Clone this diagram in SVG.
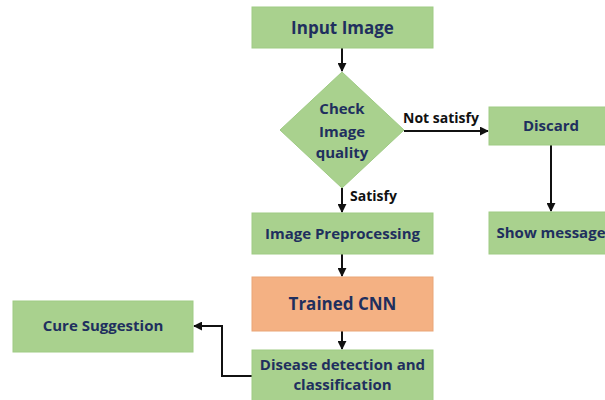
<svg xmlns="http://www.w3.org/2000/svg" width="605" height="400" viewBox="0 0 605 400">
<style>
.box{fill:#a9d18e;stroke:#9fcb84;stroke-width:1}
.cnn{fill:#f4b183;stroke:#eaa576;stroke-width:1}
.t{font-family:"Open Sans","Liberation Sans",sans-serif;font-weight:700;fill:#1f2f5e;text-anchor:middle;font-size:15px}
.big{font-size:17px}
.lbl{font-family:"Open Sans","Liberation Sans",sans-serif;font-weight:700;fill:#111;font-size:14px}
.c{fill:none;stroke:#111;stroke-width:2}
</style>
<defs>
<marker id="ah" viewBox="0 0 10 10" refX="9" refY="5" markerWidth="4.5" markerHeight="4.5" orient="auto" markerUnits="strokeWidth">
<path d="M0,0 L10,5 L0,10 z" fill="#111"/>
</marker>
</defs>
<rect width="605" height="400" fill="#fff"/>
<g id="connectors">
<path class="c" d="M342,48 V71" marker-end="url(#ah)"/>
<path class="c" d="M404,131 H488" marker-end="url(#ah)"/>
<path class="c" d="M551,145 V211" marker-end="url(#ah)"/>
<path class="c" d="M342,188 V212" marker-end="url(#ah)"/>
<path class="c" d="M342,254 V276" marker-end="url(#ah)"/>
<path class="c" d="M342,331 V349" marker-end="url(#ah)"/>
<path class="c" d="M252,376 H222 V326 H194" marker-end="url(#ah)"/>
</g>
<g id="labels">
<text class="lbl" x="403" y="123">Not satisfy</text>
<text class="lbl" x="350" y="201">Satisfy</text>
</g>
<g id="input">
<rect class="box" x="252" y="7" width="181" height="41"/>
<text class="t big" x="342.5" y="34">Input Image</text>
</g>
<g id="check">
<polygon class="box" points="342,72 404,130 342,188 280,130"/>
<text class="t" x="342" y="114">Check</text>
<text class="t" x="342" y="137">Image</text>
<text class="t" x="342" y="158">quality</text>
</g>
<g id="discard">
<rect class="box" x="489" y="107" width="125" height="38"/>
<text class="t" x="551" y="131">Discard</text>
</g>
<g id="show">
<rect class="box" x="489" y="212" width="125" height="42"/>
<text class="t" x="551" y="238">Show message</text>
</g>
<g id="preprocessing">
<rect class="box" x="252" y="213" width="181" height="41"/>
<text class="t" x="342.5" y="239">Image Preprocessing</text>
</g>
<g id="cnn">
<rect class="cnn" x="252" y="277" width="181" height="54"/>
<text class="t big" x="342.5" y="310">Trained CNN</text>
</g>
<g id="disease">
<rect class="box" x="252" y="350" width="181" height="55"/>
<text class="t" x="342.5" y="370">Disease detection and</text>
<text class="t" x="342.5" y="390">classification</text>
</g>
<g id="cure">
<rect class="box" x="13" y="301" width="180" height="51"/>
<text class="t" x="103" y="331">Cure Suggestion</text>
</g>
</svg>
